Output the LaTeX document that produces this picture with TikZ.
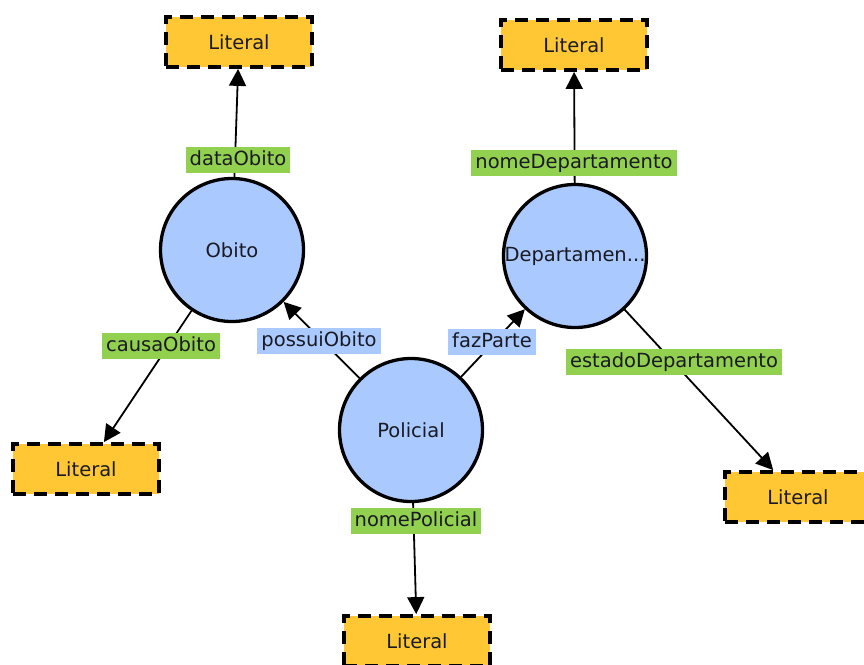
\documentclass[tikz,border=0pt]{standalone}
\usepackage{fontspec}
\setmainfont{DejaVu Sans}
\usetikzlibrary{arrows.meta}

\definecolor{litfill}{HTML}{FFC733}
\definecolor{classfill}{HTML}{A9C9FF}
\definecolor{propgreen}{HTML}{92D050}
\definecolor{inktext}{HTML}{1A1A22}

\tikzset{
  classnode/.style={circle, draw=black, line width=3.3pt, fill=classfill,
    minimum size=143pt, inner sep=0pt, text=inktext, font=\fontsize{19.5}{22}\selectfont},
  literalnode/.style={rectangle, draw=black, line width=3.8pt, dash pattern=on 13pt off 8pt,
    fill=litfill, minimum width=146pt, minimum height=50pt, inner sep=0pt,
    text=inktext, font=\fontsize{19.5}{22}\selectfont},
  proplabel/.style={rectangle, inner xsep=4pt, inner ysep=3pt, text height=15pt, text depth=4.5pt,
    text=inktext, font=\fontsize{19.5}{22}\selectfont},
  datalabel/.style={proplabel, fill=propgreen},
  objlabel/.style={proplabel, fill=classfill},
  relation/.style={draw=black, line width=1.8pt, -{Triangle[length=17pt,width=17pt]}},
}

\begin{document}
\begin{tikzpicture}[x=1pt, y=-1pt]
  \useasboundingbox (0,0) rectangle (864,664);

  % classes
  \node[classnode] (obito) at (232,250) {Obito};
  \node[classnode] (depto) at (575,256) {Departamen...};
  \node[classnode] (policial) at (411,430) {Policial};

  % literal values
  \node[literalnode] (litObitoData) at (239,42) {Literal};
  \node[literalnode] (litDeptoNome) at (574,45) {Literal};
  \node[literalnode] (litObitoCausa) at (86,469) {Literal};
  \node[literalnode] (litDeptoEstado) at (798,497) {Literal};
  \node[literalnode] (litPolicialNome) at (417,641) {Literal};

  % properties
  \draw[relation] (obito) -- (litObitoData);
  \draw[relation] (obito) -- (litObitoCausa);
  \draw[relation] (policial) -- (obito);
  \draw[relation] (policial) -- (depto);
  \draw[relation] (depto) -- (litDeptoNome);
  \draw[relation] (depto) -- (litDeptoEstado);
  \draw[relation] (policial) -- (litPolicialNome);

  % property names
  \node[datalabel] (lblDataObito) at (238,160) {dataObito\hspace{8pt}};
  \node[datalabel] (lblCausaObito) at (161,346) {causaObito\hspace{8pt}};
  \node[objlabel] (lblPossuiObito) at (319,341) {possuiObito\hspace{10pt}};
  \node[objlabel] (lblFazParte) at (492,342) {fazParte\hspace{8pt}};
  \node[datalabel] (lblNomeDepto) at (574,163) {nomeDepartamento\hspace{6pt}};
  \node[datalabel] (lblEstadoDepto) at (674,362) {estadoDepartamento\hspace{10pt}};
  \node[datalabel] (lblNomePolicial) at (416,521) {nomePolicial\hspace{10pt}};
\end{tikzpicture}
\end{document}
